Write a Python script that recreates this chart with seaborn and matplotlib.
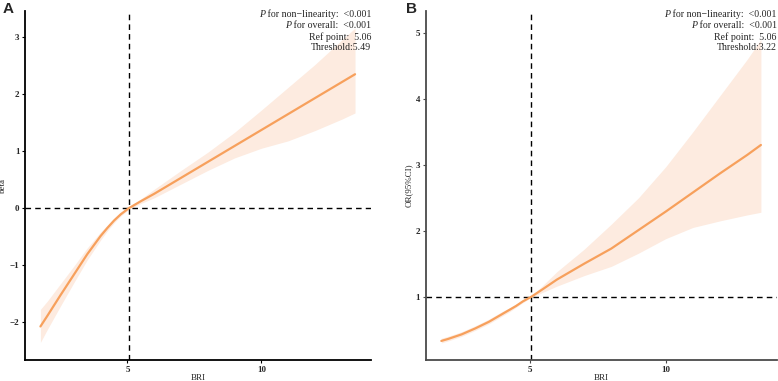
import numpy as np
import pandas as pd
import matplotlib.pyplot as plt
import seaborn as sns

bri = [1.75, 2.0, 2.5, 3.0, 3.5, 4.0, 4.25, 4.5, 4.75, 5.06, 5.5, 6, 7, 8, 9, 10, 11, 12, 13, 13.5]

# Panel A: beta with 95% CI
beta = [-2.08, -1.90, -1.53, -1.17, -0.81, -0.49, -0.35, -0.22, -0.11, 0.0, 0.12, 0.25, 0.53, 0.81, 1.09, 1.37, 1.65, 1.93, 2.21, 2.35]
beta_lo = [-2.36, -2.14, -1.72, -1.31, -0.91, -0.56, -0.40, -0.26, -0.14, -0.02, 0.08, 0.18, 0.42, 0.66, 0.88, 1.05, 1.18, 1.36, 1.56, 1.67]
beta_hi = [-1.78, -1.64, -1.33, -1.02, -0.70, -0.42, -0.30, -0.18, -0.08, 0.02, 0.16, 0.33, 0.66, 0.98, 1.33, 1.72, 2.12, 2.52, 2.95, 3.16]

# Panel B: OR with 95% CI
odds = [0.33, 0.36, 0.43, 0.52, 0.62, 0.74, 0.80, 0.86, 0.93, 1.0, 1.12, 1.26, 1.50, 1.73, 2.01, 2.29, 2.58, 2.87, 3.15, 3.30]
odds_lo = [0.30, 0.33, 0.40, 0.49, 0.59, 0.71, 0.77, 0.84, 0.91, 0.99, 1.07, 1.16, 1.32, 1.46, 1.66, 1.88, 2.05, 2.15, 2.24, 2.28]
odds_hi = [0.37, 0.40, 0.47, 0.56, 0.66, 0.78, 0.83, 0.89, 0.95, 1.01, 1.18, 1.38, 1.72, 2.10, 2.50, 2.97, 3.50, 4.05, 4.60, 4.90]

ref_point = 5.06
stats_a = [" for non\u2212linearity:  <0.001", " for overall:  <0.001", "Ref point:  5.06", "Threshold:5.49"]
stats_b = [" for non\u2212linearity:  <0.001", " for overall:  <0.001", "Ref point:  5.06", "Threshold:3.22"]

sns.set_theme(style="ticks")
plt.rcParams['font.family'] = ['Liberation Serif', 'DejaVu Serif']

line_col = "#F7A05C"
band_col = "#FDEBE0"

fig = plt.figure(figsize=(7.78, 3.81), dpi=100)
ax_a = fig.add_axes([0.032, 0.055, 0.445, 0.916])
ax_b = fig.add_axes([0.547, 0.055, 0.452, 0.916])
renderer = fig.canvas.get_renderer()


def draw_panel(ax, y, lo, hi, href, ylabel, ylim, yticks, stats, spine_col, x_right):
    df = pd.DataFrame({"BRI": bri, "y": y, "lo": lo, "hi": hi})
    ax.fill_between(df["BRI"], df["lo"], df["hi"], color=band_col, lw=0, zorder=1)
    sns.lineplot(data=df, x="BRI", y="y", ax=ax, color=line_col, lw=1.6, zorder=3)
    ax.axvline(ref_point, color="black", ls=(0, (4, 3)), lw=1.0, zorder=2)
    ax.axhline(href, color="black", ls=(0, (4, 3)), lw=1.0, zorder=2)
    ax.set_xlim(1.17, 14.1)
    ax.set_ylim(*ylim)
    ax.set_xticks([5, 10])
    ax.set_yticks(yticks)
    ax.set_yticklabels([str(t).replace("-", "\u2212") for t in yticks])
    ax.set_xlabel("BRI", fontsize=6.5, labelpad=0)
    ax.set_ylabel(ylabel, fontsize=6.5, labelpad=2)
    ax.tick_params(labelsize=6.5, length=2.5, width=0.8, pad=1.5, color=spine_col)
    for lab in ax.get_xticklabels() + ax.get_yticklabels():
        lab.set_fontweight("bold")
    sns.despine(ax=ax)
    for s in ["left", "bottom"]:
        ax.spines[s].set_color(spine_col)
        ax.spines[s].set_linewidth(1.3)
    for i, t in enumerate(stats):
        yy = 0.962 - i * 0.0292
        rest = fig.text(x_right, yy, t, ha="right", va="center", fontsize=7.1, zorder=5)
        if i < 2:
            bb = rest.get_window_extent(renderer)
            fig.text(bb.x0 / fig.bbox.width, yy, "P", ha="right", va="center",
                     fontsize=7.1, style="italic", zorder=5)


draw_panel(ax_a, beta, beta_lo, beta_hi, 0, "beta", (-2.67, 3.46), [-2, -1, 0, 1, 2, 3], stats_a, "black", 0.4775)
draw_panel(ax_b, odds, odds_lo, odds_hi, 1, "OR(95%CI)", (0.04, 5.33), [1, 2, 3, 4, 5], stats_b, "#4a4a4a", 0.9985)

fig.text(0.003, 0.995, "A", fontsize=11, fontweight="bold", family="Liberation Sans", va="top")
fig.text(0.522, 0.995, "B", fontsize=11, fontweight="bold", family="Liberation Sans", va="top")

fig.savefig("out.png", dpi=100)
